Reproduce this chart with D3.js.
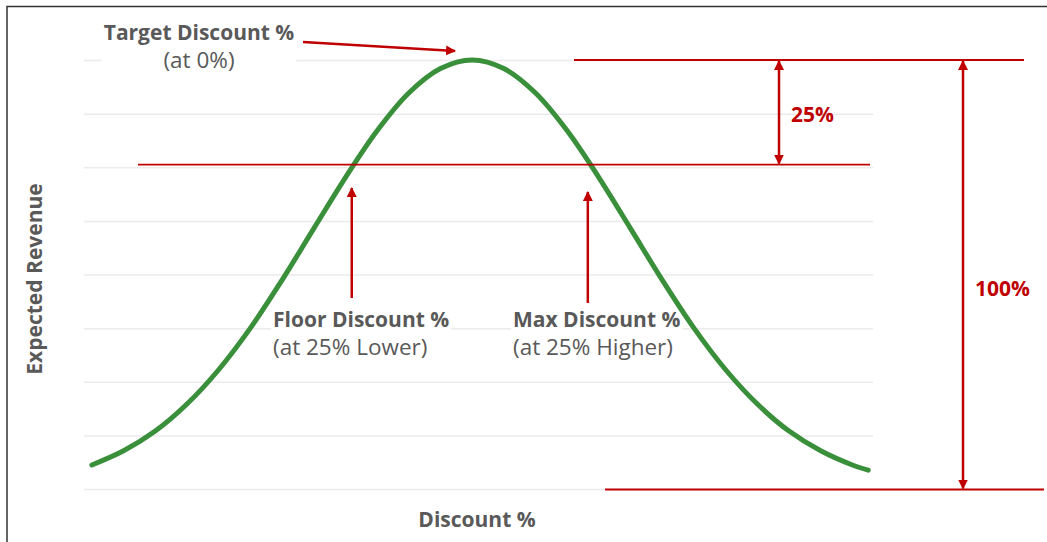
<!DOCTYPE html>
<html><head><meta charset="utf-8">
<script src="https://cdn.jsdelivr.net/npm/d3@7"></script>
<style>body{margin:0;background:#fff;} svg{display:block;font-family:"Open Sans",sans-serif;}</style>
</head><body>
<svg id="c" width="1047" height="542"></svg>
<script>
// Discount position (in spread units, 0 = target) and expected revenue (% of peak)
const discount = [-2.4,-2.2,-2.0,-1.8,-1.6,-1.4,-1.2,-1.0,-0.8,-0.6,-0.4,-0.2,0,0.2,0.4,0.6,0.8,1.0,1.2,1.4,1.6,1.8,2.0,2.2,2.4,2.5];
const revenue  = [5.6,8.9,13.5,19.8,27.8,37.5,48.7,60.7,72.6,83.5,92.3,98.0,100,98.0,92.3,83.5,72.6,60.7,48.7,37.5,27.8,19.8,13.5,8.9,5.6,4.4];
const gridTicks = [0,12.5,25,37.5,50,62.5,75,87.5,100];
const floorLevel = 75.6; // 25% lower than target
const labels = {
  target:["Target Discount %","(at 0%)"],
  floor:["Floor Discount %","(at 25% Lower)"],
  max:["Max Discount %","(at 25% Higher)"],
  gap:"25%", full:"100%",
  yTitle:"Expected Revenue", xTitle:"Discount %"
};

const svg = d3.select("#c");
const RED = "#c00000", GRAY = "#595959";
const FS = 21, FS2 = 22.5;
const x = d3.scaleLinear().domain([-2.45,2.53]).range([84,873]);
const y = d3.scaleLinear().domain([0,100]).range([489,60]);

// frame (left & top)
svg.append("path").attr("d","M7,542V6.5H1047").attr("fill","none").attr("stroke","#333").attr("stroke-width",1.5);

// gridlines
svg.append("g").attr("transform","translate(84,0)")
  .call(d3.axisLeft(y).tickValues(gridTicks).tickSize(-(873-84)).tickFormat(""))
  .call(g=>g.select(".domain").remove())
  .call(g=>g.selectAll("line").attr("stroke","#ebebeb").attr("stroke-width",1.5));

// arrow markers
const defs = svg.append("defs");
defs.append("marker").attr("id","ah").attr("viewBox","0 0 10 10").attr("refX",9).attr("refY",5)
  .attr("markerWidth",4).attr("markerHeight",4).attr("orient","auto-start-reverse").attr("markerUnits","strokeWidth")
  .append("path").attr("d","M0,0L10,5L0,10z").attr("fill",RED);

// text with white background
function label(lines, xx, yy, anchor){
  const g = svg.append("g");
  const rect = g.append("rect").attr("fill","#fff");
  const t = g.append("text").attr("x",xx).attr("y",yy).attr("text-anchor",anchor).attr("fill",GRAY);
  lines.forEach((s,i)=>{
    t.append("tspan").attr("x",xx).attr("dy",i===0?0:28).attr("font-size",i===0?FS:FS2)
      .attr("font-weight",i===0?"bold":"normal").text(s);
  });
  const bb = t.node().getBBox();
  rect.attr("x",bb.x-2).attr("y",bb.y+3).attr("width",bb.width+4).attr("height",bb.height-8);
  return g;
}
label(labels.target, 199, 40, "middle");
label(labels.floor, 273, 327, "start");
label(labels.max, 513, 327, "start");

// curve
svg.append("path").datum(discount.map((d,i)=>[d,revenue[i]]))
  .attr("d", d3.line().x(d=>x(d[0])).y(d=>y(d[1])).curve(d3.curveCatmullRom))
  .attr("fill","none").attr("stroke","#3a8f3a").attr("stroke-width",5).attr("stroke-linecap","round");

// red reference lines
const lines = [
  [574,1024,y(100)],
  [138,870,y(floorLevel)],
  [605,1044,y(0)+0.5]
];
svg.selectAll(".ref").data(lines).join("line")
  .attr("x1",d=>d[0]).attr("x2",d=>d[1]).attr("y1",d=>d[2]).attr("y2",d=>d[2])
  .attr("stroke",RED).attr("stroke-width",1.8);

// arrows
function arrow(x1,y1,x2,y2,both){
  const l = svg.append("line").attr("x1",x1).attr("y1",y1).attr("x2",x2).attr("y2",y2)
    .attr("stroke",RED).attr("stroke-width",2.5).attr("marker-end","url(#ah)");
  if(both) l.attr("marker-start","url(#ah)");
}
arrow(779, y(100)+1, 779, y(floorLevel)-1, true);
arrow(963, y(100)+1, 963, y(0)-0.5, true);
arrow(x(-0.76), 298, x(-0.76), 188, false);
arrow(x(0.73), 303, x(0.73), 192, false);
arrow(303, 42, 455, 51, false);

// red percentage labels
svg.append("text").attr("x",791).attr("y",122).attr("fill",RED).attr("font-weight","bold").attr("font-size",FS).text(labels.gap);
svg.append("text").attr("x",975).attr("y",296).attr("fill",RED).attr("font-weight","bold").attr("font-size",FS).text(labels.full);

// axis titles
svg.append("text").attr("transform","translate(42,279) rotate(-90)").attr("text-anchor","middle")
  .attr("fill",GRAY).attr("font-weight","bold").attr("font-size",FS).text(labels.yTitle);
svg.append("text").attr("x",477).attr("y",527).attr("text-anchor","middle")
  .attr("fill",GRAY).attr("font-weight","bold").attr("font-size",FS).text(labels.xTitle);
</script>
</body></html>
